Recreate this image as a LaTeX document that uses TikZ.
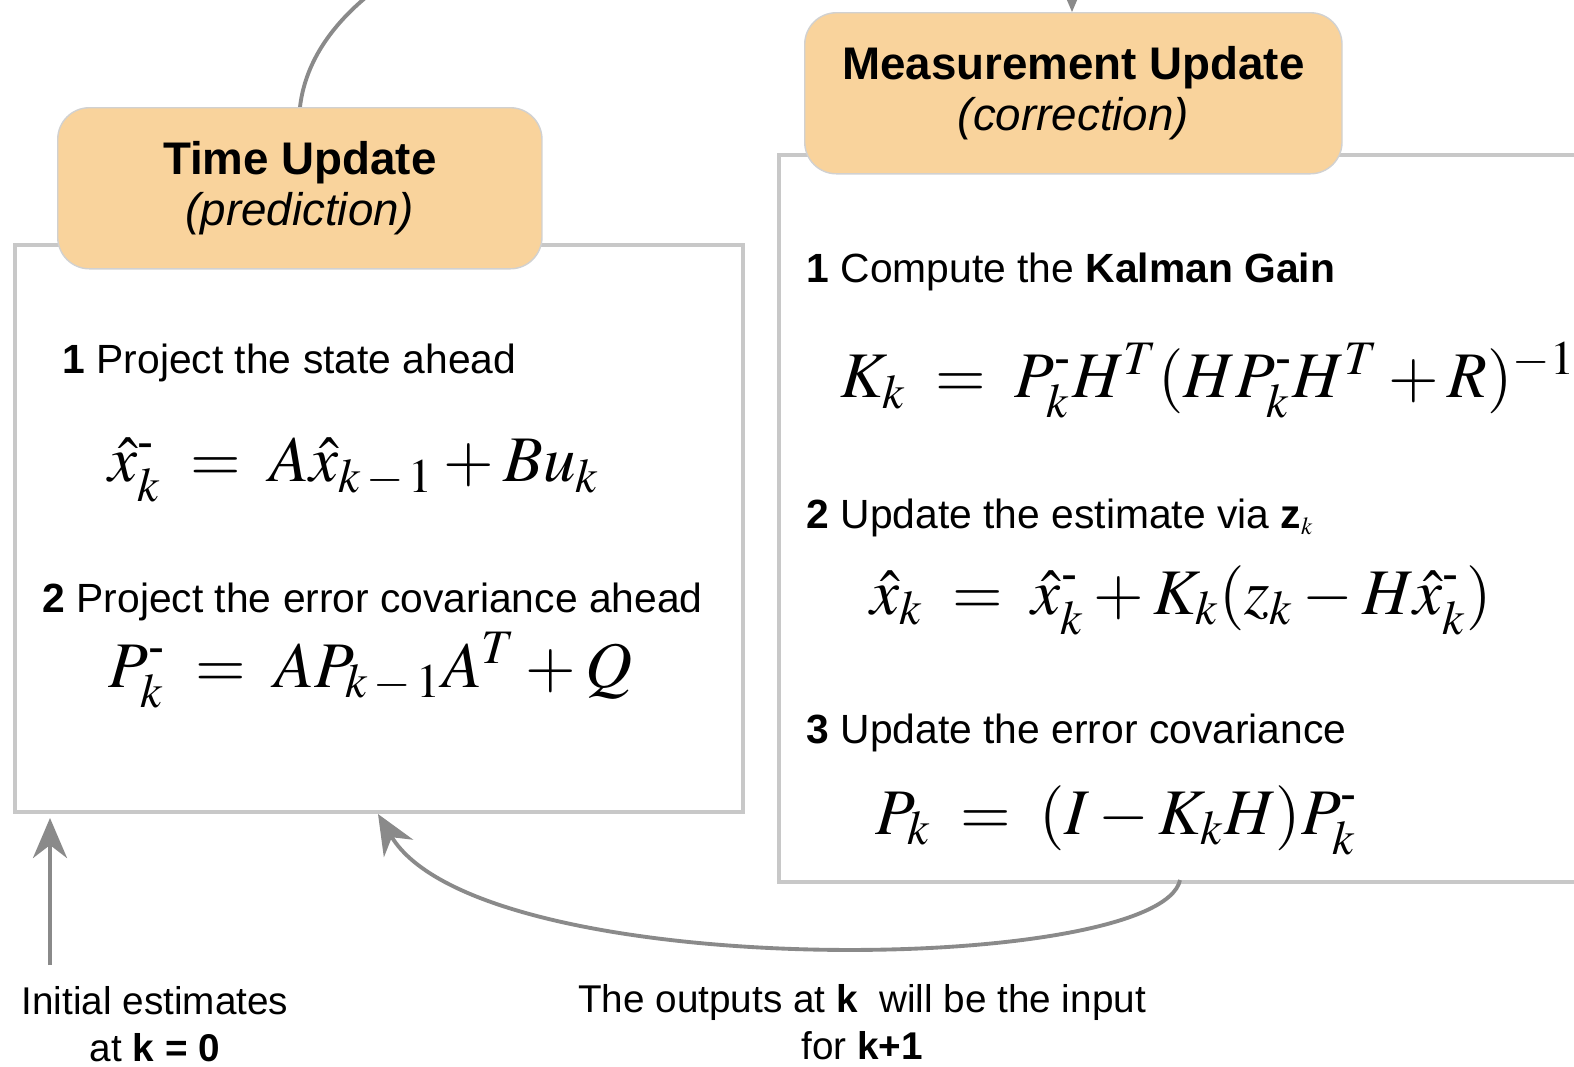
\documentclass[tikz,border=0pt]{standalone}
\usepackage{amsmath}
\usepackage{mathptmx}
\usepackage[no-math]{fontspec}
\setmainfont{Liberation Sans}
\usetikzlibrary{arrows.meta, positioning, calc}
\definecolor{hdrfill}{HTML}{F9D39C}
\definecolor{boxline}{HTML}{C8C8C8}
\definecolor{flowgray}{HTML}{8A8A8A}
\newcommand{\apri}{^{\text{-}}}

\begin{document}
\begin{tikzpicture}[>=Stealth, x=0.01cm, y=-0.01cm,
  body/.style={draw=boxline, line width=1pt, anchor=north west, inner sep=0pt},
  hdr/.style={draw=black!18, fill=hdrfill, rounded corners=9pt, anchor=north west,
    align=center, inner sep=0pt, font=\fontsize{13}{14.5}\selectfont},
  txt/.style={anchor=west, inner sep=0pt, font=\fontsize{11.6}{13}\selectfont},
  eqn/.style={anchor=west, inner sep=0pt, font=\fontsize{18.5}{22}\selectfont},
  flow/.style={draw=flowgray, line width=1.1pt, -{Stealth[length=4mm, width=3.4mm]}},
  lbl/.style={align=center, inner sep=0pt, font=\fontsize{11}{13.5}\selectfont}]
  \useasboundingbox (0,0) rectangle (1574,1066);

  % the two panels
  \node[body, minimum width=7.28cm, minimum height=5.67cm] (tub) at (13,243) {};
  \node[body, minimum width=8.3cm, minimum height=7.27cm] (mub) at (777,153) {};

  % loop from prediction to correction
  \coordinate (mutop) at (1072,12);
  \draw[flow] (300,107) .. controls (330,-150) and (1072,-200) .. (mutop);

  \node[hdr, minimum width=4.84cm, minimum height=1.61cm] (tuh) at (57,107)
    {\textbf{Time Update}\\\textit{(prediction)}};
  \node[hdr, minimum width=5.37cm, minimum height=1.61cm] (muh) at (804,12)
    {\textbf{Measurement Update}\\\textit{(correction)}};

  % time update
  \node[txt] (tu1) at (62,363) {\textbf{1} Project the state ahead};
  \node[eqn] (tueq1) at (108,470) {$\hat{x}_k\apri \;=\; A\hat{x}_{k\,-\,1} + Bu_k$};
  \node[txt] (tu2) at (42,602) {\textbf{2} Project the error covariance ahead};
  \node[eqn] (tueq2) at (108,670) {$P_k\apri \;=\; AP_{k\,-\,1}A^T + Q$};

  % measurement update
  \node[txt] (mu1) at (806,272) {\textbf{1} Compute the \textbf{Kalman Gain}};
  \node[eqn] (mueq1) at (840,380) {$K_k \;=\; P_k\apri H^T(HP_k\apri H^T + R)^{-1}$};
  \node[txt] (mu2) at (806,518) {\textbf{2} Update the estimate via \textbf{z}$_{\scriptscriptstyle k}$};
  \node[eqn] (mueq2) at (870,600) {$\hat{x}_k \;=\; \hat{x}_k\apri + K_k(z_k - H\hat{x}_k\apri)$};
  \node[txt] (mu3) at (806,733) {\textbf{3} Update the error covariance};
  \node[eqn] (mueq3) at (875,820) {$P_k \;=\; (I - K_kH)P_k\apri$};

  % inputs and feedback
  \node[lbl] (init) at (155,1024) {Initial estimates\\at \textbf{k = 0}};
  \node[lbl] (fb) at (862,1022) {The outputs at \textbf{k}~ will be the input\\for \textbf{k+1}};
  \coordinate (i0) at (50,965);
  \coordinate (i1) at (50,818);
  \draw[flow] (i0) -- (i1);
  \coordinate (out) at (1180,880);
  \coordinate (in) at (378,814);
  \draw[flow] (out) .. controls (1160,975) and (480,985) .. (in);
\end{tikzpicture}
\end{document}
